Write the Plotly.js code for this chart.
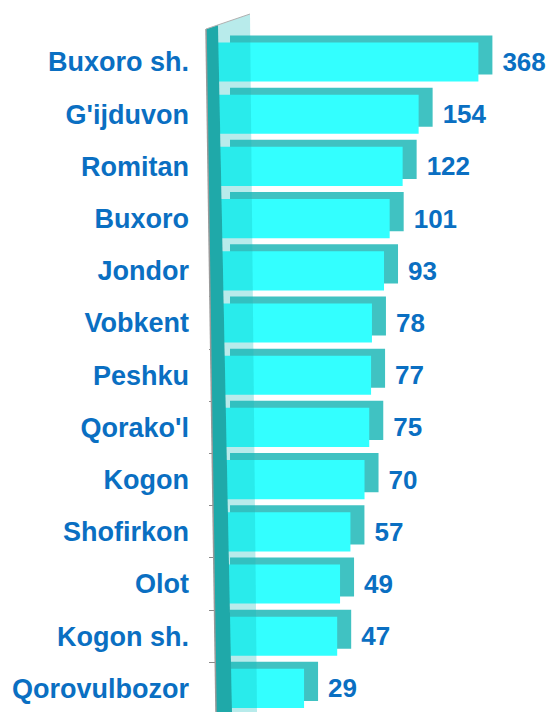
<!DOCTYPE html>
<html>
<head>
<meta charset="utf-8">
<script src="https://cdn.plot.ly/plotly-3.0.1.min.js"></script>
<style>html,body{margin:0;padding:0;background:#fff;}#chart{width:550px;height:712px;}</style>
</head>
<body>
<div id="chart"></div>
<script>
const categories = ["Buxoro sh.", "G'ijduvon", "Romitan", "Buxoro", "Jondor", "Vobkent", "Peshku", "Qorako'l", "Kogon", "Shofirkon", "Olot", "Kogon sh.", "Qorovulbozor"];
const values = [368, 154, 122, 101, 93, 78, 77, 75, 70, 57, 49, 47, 29];

const W = 550, Htot = 712;
const mL = 216, mR = 5, mT = 26, mB = 0;
const PW = W - mL - mR, PH = Htot - mT - mB;
const DX = 14, DY = 7;      // depth of the pseudo-3D boxes
const LBL = 21;             // extra shift of value labels
const ex = DX / PW, ey = DY / PH;
const px = v => (v - mL) / PW;
const py = v => (Htot - mB - v) / PH;

const blue = '#0A6FC2';
const front = '#33FFFF';
const side = '#40C2C2';
const fontFam = 'Liberation Sans, Arial, sans-serif';

// log scale: pixel = A + B*log10(v)
const A = 73, B = 158;
const xr = [(mL - A) / B, (mL + PW - DX - A) / B];
const xrLbl = [(mL - LBL - A) / B, (mL + PW - LBL - A) / B];
// category centres at C0 + S*i
const C0 = 62, S = 52.2;
const yTop = mT + DY, yBot = Htot - mB;
const yr = [(yBot - C0) / S, (yTop - C0) / S];

const back = {
  type: 'bar', orientation: 'h', y: categories, x: values,
  xaxis: 'x', yaxis: 'y',
  marker: {color: side, line: {width: 0}},
  hoverinfo: 'skip'
};
const main = {
  type: 'bar', orientation: 'h', y: categories, x: values,
  xaxis: 'x2', yaxis: 'y2',
  marker: {color: front, line: {width: 0}},
  hoverinfo: 'skip'
};
const labels = {
  type: 'bar', orientation: 'h', y: categories, x: values,
  xaxis: 'x3', yaxis: 'y3',
  marker: {color: 'rgba(0,0,0,0)', line: {width: 0}},
  text: values.map(String),
  textposition: 'outside', cliponaxis: false, constraintext: 'none',
  textfont: {family: fontFam, size: 26, color: blue, weight: 'bold'},
  hoverinfo: 'skip'
};

const wallDark = `M ${px(206)} ${py(29)} L ${px(218)} ${py(25)} L ${px(232)} ${py(712)} L ${px(216)} ${py(712)} Z`;
const wallGlass = `M ${px(218)} ${py(25)} L ${px(250)} ${py(14)} L ${px(257)} ${py(712)} L ${px(232)} ${py(712)} Z`;

const layout = {
  width: W, height: Htot,
  margin: {l: mL, r: mR, t: mT, b: mB, pad: 0},
  paper_bgcolor: '#fff', plot_bgcolor: 'rgba(0,0,0,0)',
  showlegend: false, bargap: 0.25,
  xaxis: {type: 'log', range: xr, domain: [ex, 1], anchor: 'y', visible: false},
  yaxis: {type: 'category', range: yr, domain: [ey, 1], anchor: 'x', visible: false},
  xaxis2: {type: 'log', range: xr, domain: [0, 1 - ex], anchor: 'y2', visible: false},
  yaxis2: {type: 'category', range: yr, domain: [0, 1 - ey], anchor: 'x2',
    showline: false, showgrid: false, zeroline: false,
    ticks: 'outside', tickson: 'boundaries', ticklen: 6, tickcolor: '#8a8a8a', tickwidth: 1,
    ticklabelstandoff: 26,
    tickfont: {family: fontFam, size: 27, color: blue, weight: 'bold'}},
  xaxis3: {type: 'log', range: xrLbl, domain: [0, 1], anchor: 'y3', visible: false},
  yaxis3: {type: 'category', range: yr, domain: [0, 1 - ey], anchor: 'x3', visible: false},
  shapes: [
    {type: 'path', xref: 'paper', yref: 'paper', path: wallGlass, fillcolor: 'rgba(20,190,190,0.30)', line: {width: 0}, layer: 'above'},
    {type: 'path', xref: 'paper', yref: 'paper', path: wallDark, fillcolor: '#1FA9A9', line: {width: 0}, layer: 'above'},
    {type: 'line', xref: 'paper', yref: 'paper', x0: px(206), y0: py(29), x1: px(216), y1: py(712), line: {color: '#9a9a9a', width: 1.5}, layer: 'above'},
    {type: 'line', xref: 'paper', yref: 'paper', x0: px(206), y0: py(29), x1: px(250), y1: py(14), line: {color: '#b0b0b0', width: 1}, layer: 'above'}
  ]
};

Plotly.newPlot('chart', [back, main, labels], layout, {displayModeBar: false, staticPlot: true});
</script>
</body>
</html>
